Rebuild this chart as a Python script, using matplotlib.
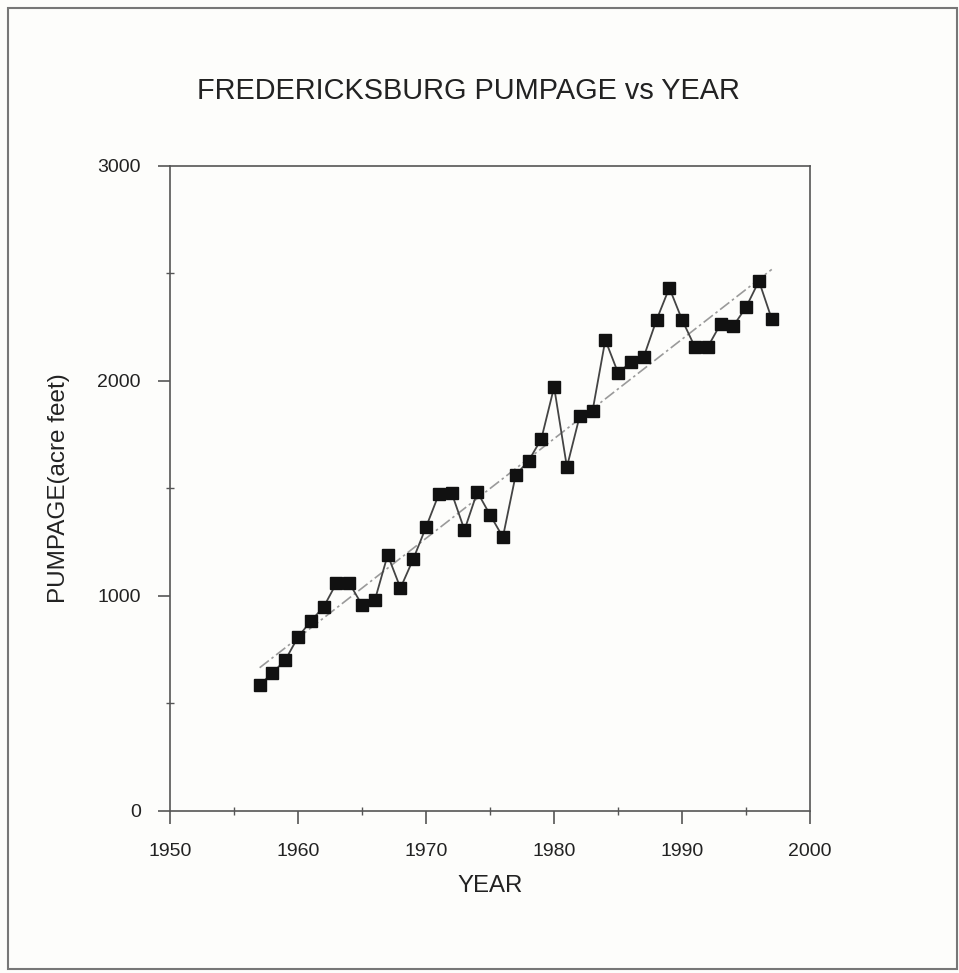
import numpy as np
import matplotlib
matplotlib.use("Agg")
import matplotlib.pyplot as plt
from matplotlib.patches import Rectangle
from matplotlib.ticker import MultipleLocator

plt.rcParams["font.family"] = ["Liberation Sans", "DejaVu Sans"]

# pumpage data
years = list(range(1957, 1998))
pumpage = [586, 642, 702, 809, 884, 949, 1060, 1060, 958, 981,
           1191, 1037, 1172, 1321, 1474, 1479, 1307, 1484, 1377, 1274,
           1563, 1628, 1730, 1972, 1600, 1837, 1860, 2191, 2037, 2088,
           2112, 2284, 2433, 2284, 2158, 2158, 2265, 2256, 2344, 2465,
           2288]

x_ticks = [1950, 1960, 1970, 1980, 1990, 2000]
y_ticks = [0, 1000, 2000, 3000]


fig = plt.figure(figsize=(9.59, 9.73), dpi=100, facecolor="#fdfdfb")
ax = fig.add_axes([0.1773, 0.1665, 0.6675, 0.6629])
ax.set_facecolor("#fdfdfb")

# linear trend line
coef = np.polyfit(years, pumpage, 1)
fit_x = np.array([years[0], years[-1]])
ax.plot(fit_x, np.polyval(coef, fit_x), color="#9a9a9a", linewidth=1.2,
        linestyle=(0, (7, 2, 1.5, 2)), zorder=2)

ax.plot(years, pumpage, color="#444444", linewidth=1.3, marker="s",
        markersize=8.5, markerfacecolor="#111111", markeredgecolor="#111111",
        zorder=3)

ax.set_xlim(1950, 2000)
ax.set_ylim(0, 3000)
ax.set_xticks(x_ticks)
ax.set_yticks(y_ticks)
ax.xaxis.set_minor_locator(MultipleLocator(5))
ax.yaxis.set_minor_locator(MultipleLocator(500))

for s in ax.spines.values():
    s.set_color("#555555")
    s.set_linewidth(1.2)

ax.tick_params(which="major", direction="out", length=9, width=1.2,
               color="#555555", labelsize=14, labelcolor="#222222")
ax.tick_params(axis="x", which="major", pad=14)
ax.tick_params(axis="y", which="major", pad=12)
ax.tick_params(which="minor", direction="inout", length=6, width=1.0,
               color="#555555")

ax.set_xlabel("YEAR", fontsize=17.3, color="#222222", labelpad=11)
ax.set_ylabel("PUMPAGE(acre feet)", fontsize=17.5, color="#222222", labelpad=20)

fig.text(0.4885, 0.906, "FREDERICKSBURG PUMPAGE vs YEAR", ha="center",
         va="center", fontsize=20.8, color="#222222")

# outer frame
fig.patches.append(Rectangle((0.008, 0.004), 0.99, 0.988, transform=fig.transFigure,
                             fill=False, edgecolor="#777777", linewidth=1.5))

fig.savefig("out.png", dpi=100, facecolor=fig.get_facecolor())
